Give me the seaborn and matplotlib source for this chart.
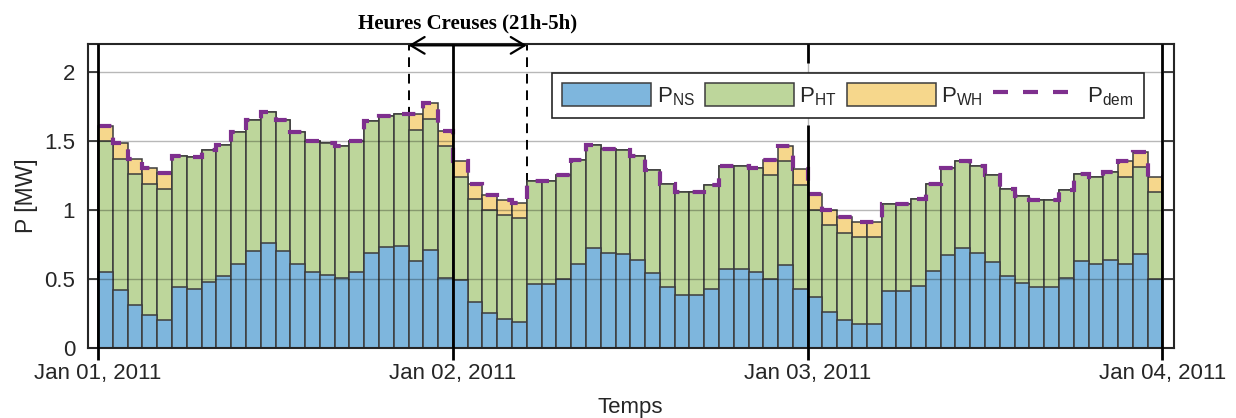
import numpy as np
import pandas as pd
import matplotlib
matplotlib.use("Agg")
import matplotlib.pyplot as plt
from matplotlib.patches import Patch
from matplotlib.lines import Line2D
import seaborn as sns

# Hourly power components over three days (MW), hour 0 = Jan 01, 2011 00:00
p_ns = [0.55, 0.42, 0.31, 0.24, 0.20, 0.44, 0.43, 0.48, 0.52, 0.61, 0.70, 0.76,
        0.70, 0.61, 0.55, 0.53, 0.51, 0.55, 0.69, 0.73, 0.74, 0.63, 0.71, 0.51,
        0.49, 0.33, 0.25, 0.21, 0.19, 0.46, 0.46, 0.50, 0.61, 0.72, 0.69, 0.68,
        0.64, 0.54, 0.44, 0.38, 0.38, 0.43, 0.57, 0.57, 0.55, 0.50, 0.60, 0.43,
        0.37, 0.26, 0.20, 0.17, 0.17, 0.41, 0.41, 0.45, 0.56, 0.67, 0.72, 0.69,
        0.62, 0.52, 0.47, 0.44, 0.44, 0.51, 0.63, 0.61, 0.64, 0.61, 0.68, 0.50]
p_ht = [0.95, 0.95, 0.95, 0.95, 0.95, 0.95, 0.95, 0.95, 0.95, 0.95, 0.95, 0.95,
        0.95, 0.95, 0.95, 0.95, 0.95, 0.95, 0.95, 0.95, 0.95, 0.95, 0.95, 0.95,
        0.75, 0.75, 0.75, 0.75, 0.75, 0.75, 0.75, 0.75, 0.75, 0.75, 0.75, 0.75,
        0.75, 0.75, 0.75, 0.75, 0.75, 0.75, 0.75, 0.75, 0.75, 0.75, 0.75, 0.75,
        0.63, 0.63, 0.63, 0.63, 0.63, 0.63, 0.63, 0.63, 0.63, 0.63, 0.63, 0.63,
        0.63, 0.63, 0.63, 0.63, 0.63, 0.63, 0.63, 0.63, 0.63, 0.63, 0.63, 0.63]
p_wh = [0.11, 0.11, 0.11, 0.115, 0.115, 0, 0, 0, 0, 0, 0, 0,
        0, 0, 0, 0, 0, 0, 0, 0, 0, 0.11, 0.11, 0.11,
        0.11, 0.11, 0.11, 0.11, 0.11, 0, 0, 0, 0, 0, 0, 0,
        0, 0, 0, 0, 0, 0, 0, 0, 0, 0.11, 0.11, 0.115,
        0.115, 0.11, 0.115, 0.11, 0.11, 0, 0, 0, 0, 0, 0, 0,
        0, 0, 0, 0, 0, 0, 0, 0, 0, 0.11, 0.11, 0.11]
day_ticks = [0, 24, 48, 72]
day_labels = ["Jan 01, 2011", "Jan 02, 2011", "Jan 03, 2011", "Jan 04, 2011"]
off_peak = (21, 29)  # 21h on Jan 01 to 5h on Jan 02

c_ns = "#7EB6DD"
c_ht = "#BDD69B"
c_wh = "#F6D78C"
c_dem = "#7E2F8E"
ink = "#262626"

hours = np.arange(len(p_ns))
df = pd.DataFrame({"t": hours + 0.5, "ns": p_ns, "ht": p_ht, "wh": p_wh})
df["ns_ht"] = df["ns"] + df["ht"]
df["dem"] = df["ns_ht"] + df["wh"]

sns.set_style("white")
plt.rcParams["font.family"] = ["Liberation Sans", "DejaVu Sans"]

fig = plt.figure(figsize=(12.36, 4.18), dpi=100)
ax = fig.add_axes([0.0708, 0.1675, 0.879, 0.7273])

# Off-peak window markers (behind the bars)
ax.vlines(list(off_peak), 0, 2.2, colors="black", linestyles=(0, (5, 3.5)),
          lw=1.4, zorder=0.5)

bar_kw = dict(orient="x", native_scale=True, width=1.0, saturation=1,
              errorbar=None, edgecolor="#3c3c3c", linewidth=1.1, ax=ax)
sns.barplot(data=df, x="t", y="dem", color=c_wh, **bar_kw)
sns.barplot(data=df, x="t", y="ns_ht", color=c_ht, **bar_kw)
sns.barplot(data=df, x="t", y="ns", color=c_ns, **bar_kw)

# Demand as a dashed staircase over the stacks
ax.stairs(df["dem"].to_numpy(), np.arange(len(p_ns) + 1), baseline=None,
          color=c_dem, lw=3, linestyle=(0, (3.2, 3.2)), zorder=3)

ax.set_xlim(-0.72, 72.78)
ax.set_ylim(0, 2.2)
ax.set_yticks([0, 0.5, 1, 1.5, 2])
ax.set_yticklabels(["0", "0.5", "1", "1.5", "2"])
ax.set_xticks(day_ticks)
ax.set_xticklabels(day_labels)

ax.grid(True, color="black", alpha=0.28, lw=1.0)
ax.set_axisbelow(False)

for s in ax.spines.values():
    s.set_color(ink)
    s.set_linewidth(1.5)
    s.set_visible(True)

ax.tick_params(axis="y", direction="in", length=7, width=1.2, left=True,
               right=True, labelsize=16, pad=9, colors=ink)
ax.tick_params(axis="x", length=0, labelsize=16, pad=11, colors=ink)

ax.set_xlabel("Temps", fontsize=16, color=ink, labelpad=9)
ax.set_ylabel("P [MW]", fontsize=16.5, color=ink, labelpad=4)

# Day boundaries
ax.vlines([0, 24, 72], -0.087, 2.2, colors="black", lw=2, clip_on=False, zorder=6)
ax.vlines([48, 48], [-0.087, 2.062], [1.614, 2.2], colors="black", lw=2,
          clip_on=False, zorder=6)

# Off-peak annotation above the axes
ax.annotate("", xy=(off_peak[0], 2.19), xytext=(off_peak[1], 2.19),
            arrowprops=dict(arrowstyle="<->,head_length=0.5,head_width=0.3",
                            lw=1.6, color="black", mutation_scale=20,
                            shrinkA=0, shrinkB=0),
            annotation_clip=False)
ax.text(25, 2.31, "Heures Creuses (21h-5h)", ha="center", va="baseline",
        fontsize=15, fontweight="bold", family="Liberation Serif", color="black")

handles = [
    Patch(facecolor=c_ns, edgecolor="#3c3c3c", lw=1.1),
    Patch(facecolor=c_ht, edgecolor="#3c3c3c", lw=1.1),
    Patch(facecolor=c_wh, edgecolor="#3c3c3c", lw=1.1),
    Line2D([], [], color=c_dem, lw=3, linestyle=(0, (3.6, 3.6))),
]
labels = [r"$\mathregular{P_{NS}}$", r"$\mathregular{P_{HT}}$",
          r"$\mathregular{P_{WH}}$", r"$\mathregular{P_{dem}}$"]
leg = ax.legend(handles, labels, ncol=4, loc="upper right",
                bbox_to_anchor=(0.972, 0.905), fontsize=16, frameon=True,
                fancybox=False, framealpha=1, edgecolor=ink,
                handlelength=4.0, handleheight=1.26, handletextpad=0.25,
                columnspacing=0.45, borderpad=0.45, borderaxespad=0)
leg.get_frame().set_linewidth(1.2)
leg.set_zorder(10)

fig.savefig("out.png", dpi=100)
